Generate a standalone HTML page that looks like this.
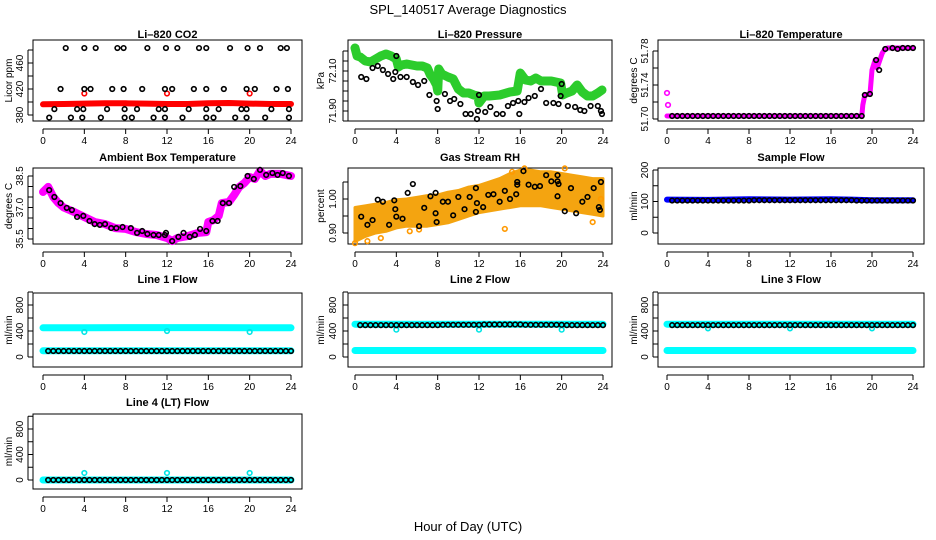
<!DOCTYPE html>
<html><head><meta charset="utf-8">
<style>
html,body{margin:0;padding:0;background:#fff;}
svg{display:block;font-family:"Liberation Sans",sans-serif;}
</style></head>
<body>
<svg id="chart" width="936" height="540" viewBox="0 0 936 540" xmlns="http://www.w3.org/2000/svg">
<rect width="936" height="540" fill="#fff"/>
<text x="468" y="14" text-anchor="middle" font-size="13">SPL_140517  Average Diagnostics</text>
<text x="468" y="531" text-anchor="middle" font-size="13">Hour of Day (UTC)</text>
</svg>
<script>
// ---------- data ----------
const xTicks=[0,4,8,12,16,20,24];
const halfHours=[0.5,1,1.5,2,2.5,3,3.5,4,4.5,5,5.5,6,6.5,7,7.5,8,8.5,9,9.5,10,10.5,11,11.5,12,12.5,13,13.5,14,14.5,15,15.5,16,16.5,17,17.5,18,18.5,19,19.5,20,20.5,21,21.5,22,22.5,23,23.5,24];

// CO2
const co2BlackHours=[2.2,4.0,5.1,7.2,7.8,10.1,11.9,13.0,15.1,15.8,18.1,19.8,21.0,23.0,23.6,
 1.7,4.0,4.6,6.7,7.8,9.6,11.8,12.5,14.6,15.8,17.5,19.7,20.5,22.6,23.7,
 1.1,3.3,3.9,6.2,7.9,9.1,11.2,11.8,14.1,15.8,17.0,19.2,19.7,22.1,23.8,
 0.6,2.7,3.8,5.6,7.9,8.6,10.7,11.8,13.5,15.8,16.5,18.6,19.7,21.5,23.8];
const co2BlackVals=[483,483,483,483,483,483,483,483,483,483,483,483,483,483,483,
 420,420,420,420,420,420,420,420,420,420,420,420,420,420,420,
 389,389,389,389,389,389,389,389,389,389,389,389,389,389,389,
 376,376,376,376,376,376,376,376,376,376,376,376,376,376,376];
const co2RedHours=[0,2,4,6,8,10,12,14,16,18,20,22,24];
const co2RedVals=[396.5,397,397.5,398,398,397.5,397,397,398,398.5,397.5,397,397];
const co2RedOutHours=[4.0,12.0,20.0];
const co2RedOutVals=[413,413,413];

// Pressure
const presBlackHours=[0.6,1.1,1.7,2.2,2.7,3.2,3.7,3.9,4.0,4.4,5.0,5.6,6.1,6.7,7.2,7.9,8.0,8.7,9.2,9.6,10.2,10.7,11.2,11.8,11.9,12.0,12.6,13.1,13.7,14.3,14.8,15.3,15.8,15.9,16.4,16.8,17.4,18.0,18.5,19.2,19.7,19.9,20.0,20.6,21.3,21.8,22.2,22.8,23.5,23.8,23.9];
const presBlackVals=[72.07,72.06,72.115,72.125,72.105,72.085,72.06,72.095,72.175,72.07,72.07,72.045,72.03,72.05,71.98,71.95,71.91,71.985,71.95,71.96,71.935,71.885,71.885,71.86,71.9,71.98,71.895,71.92,71.885,71.885,71.925,71.94,71.95,71.885,71.945,71.965,71.975,72.01,71.94,71.94,71.935,71.975,72.035,71.925,71.92,71.905,71.9,71.925,71.925,71.9,71.885];
const presGreenHours=[0,0.2,0.5,1,1.5,2,2.5,3,3.5,4,4.2,4.5,5,5.5,6,6.5,7,7.3,7.6,7.9,8.0,8.1,8.4,9,9.5,10,10.5,11,11.5,11.9,12.0,12.5,13,14,15,15.7,16,16.5,17,17.5,18,19,19.9,20.1,20.5,21,21.5,22,22.5,23,23.5,23.9];
const presGreenVals=[72.215,72.175,72.17,72.15,72.145,72.16,72.175,72.185,72.175,72.16,72.12,72.13,72.135,72.13,72.125,72.125,72.115,72.08,72.06,72.03,72.0,72.11,72.085,72.07,72.06,72.01,71.99,71.99,71.98,71.975,71.94,71.975,71.975,71.98,71.995,72.0,72.09,72.055,72.05,72.065,72.05,72.05,72.04,71.98,71.99,72.0,72.03,71.995,71.975,71.975,71.99,72.005];

// Li-820 temperature
const ltMagHours=[0,19,19.1,19.3,19.8,20,20.3,20.5,20.8,21,21.2,21.5,24];
const ltMagVals=[51.7035,51.7035,51.7165,51.7282,51.7294,51.7576,51.7694,51.76,51.7706,51.7776,51.7812,51.7835,51.7835];
const ltMagOutHours=[0.0,0.1];
const ltMagOutVals=[51.7306,51.7165];
const ltBlackHours=[0.5,1,1.5,2,2.5,3,3.5,4,4.5,5,5.5,6,6.5,7,7.5,8,8.5,9,9.5,10,10.5,11,11.5,12,12.5,13,13.5,14,14.5,15,15.5,16,16.5,17,17.5,18,18.5,19,19.3,19.8,20.4,20.7,21.3,22,22.5,23,23.5,24];
const ltBlackVals=[51.7035,51.7035,51.7035,51.7035,51.7035,51.7035,51.7035,51.7035,51.7035,51.7035,51.7035,51.7035,51.7035,51.7035,51.7035,51.7035,51.7035,51.7035,51.7035,51.7035,51.7035,51.7035,51.7035,51.7035,51.7035,51.7035,51.7035,51.7035,51.7035,51.7035,51.7035,51.7035,51.7035,51.7035,51.7035,51.7035,51.7035,51.7035,51.7282,51.7294,51.7694,51.7576,51.7824,51.7835,51.7824,51.7835,51.7835,51.7835];

// Ambient box temperature
const ambMagHours=[0,0.5,1,1.5,2,3,4,5,6,7,8,9,10,11,12,12.5,13,14,15,15.8,16,16.5,17,17.3,18,18.5,19,19.5,20,20.5,21,21.5,22,23,24];
const ambMagVals=[37.74,37.98,37.5,37.21,37.0,36.79,36.55,36.31,36.21,36.02,35.98,35.83,35.74,35.69,35.55,35.4,35.55,35.64,35.79,35.83,36.31,36.4,36.6,37.21,37.26,37.6,37.98,38.17,38.45,38.36,38.74,38.5,38.6,38.6,38.5];
const ambBlackHours=[0.6,1.1,1.7,2.3,2.8,3.3,3.9,4.5,5.0,5.5,6.0,6.6,7.1,7.7,8.5,9.1,9.6,10.1,10.7,11.2,11.8,11.9,12.5,13.1,13.6,14.2,14.7,15.2,15.8,16.4,16.9,17.4,18.0,18.5,19.1,19.8,20.4,21.0,21.6,22.2,22.7,23.2,23.8];
const ambBlackVals=[37.83,37.5,37.21,36.98,36.88,36.55,36.6,36.36,36.21,36.17,36.21,36.02,36.02,36.07,36.02,35.79,35.88,35.74,35.69,35.69,35.69,35.79,35.4,35.6,35.79,35.6,35.69,35.98,35.88,36.36,36.36,37.21,37.21,37.98,38.02,38.5,38.36,38.79,38.55,38.64,38.55,38.64,38.5];

// Gas stream RH
const rhBandHours=[0,1,2,3,4,5,6,7,8,9,10,11,12,13,14,15,16,17,18,19,20,21,22,23,24];
const rhLowVals=[0.875,0.89,0.90,0.905,0.915,0.92,0.92,0.92,0.925,0.93,0.94,0.95,0.96,0.965,0.97,0.975,0.98,0.98,0.98,0.975,0.97,0.965,0.96,0.955,0.95];
const rhHighVals=[0.975,0.98,0.985,0.99,0.998,1.0,1.005,1.01,1.012,1.02,1.025,1.035,1.04,1.05,1.06,1.075,1.085,1.085,1.08,1.08,1.075,1.07,1.065,1.06,1.06];
const rhOrangeHours=[0.0,1.2,2.5,5.3,6.2,14.5,15.2,16.4,20.3,23.0,23.8];
const rhOrangeVals=[0.87,0.876,0.885,0.905,0.91,0.912,1.08,1.09,1.09,0.932,1.0];
const rhBlackHours=[0.6,1.2,1.7,2.2,2.7,3.3,3.8,3.9,4.0,4.6,5.1,5.6,6.2,6.7,7.3,7.8,7.8,7.9,8.5,9.0,9.5,10.0,10.6,11.1,11.7,11.7,11.8,12.4,12.9,13.4,14.0,14.5,15.0,15.6,15.7,15.7,16.3,16.8,17.4,17.9,18.5,19.0,19.6,19.6,19.7,19.6,20.3,20.9,21.4,22.0,22.5,23.1,23.6,23.7,23.8];
const rhBlackVals=[0.948,0.924,0.938,0.998,0.992,0.924,0.996,0.97,0.948,0.942,1.018,1.044,0.92,0.974,1.008,1.018,0.958,0.932,0.992,0.992,0.952,1.006,0.97,1.006,1.032,0.962,0.988,0.976,1.012,1.014,0.992,1.024,1.0,1.014,1.05,1.042,1.082,1.042,1.036,1.038,1.07,1.052,1.07,1.052,1.044,1.008,0.964,1.032,0.958,0.992,1.006,1.032,0.976,0.968,1.05];

// Sample flow
const sfBlueHours=[0,4,8,12,16,18,20,24];
const sfBlueVals=[106,105,107,106,107,106,104,104];
const sfBlackVals=[103,103,103,103,103,103,103,103,103,103,103,103,103,103,103,103,104,104,104,104,104,104,104,104,104,104,104,104,104,104,104,104,104,104,104,104,103,103,103,103,103,103,103,103,103,103,103,103];

// Line flows
const flowBandHours=[0,4,8,12,16,20,24];
const l1CyanHigh=[450,450,452,452,452,450,450];
const l1CyanLow=[95,95,95,95,95,95,95];
const l1OutVals=[385,400,385];
const l1BlackVals=[92,92,92,92,92,92,92,92,92,92,92,92,92,92,92,92,92,92,92,92,92,92,92,92,92,92,92,92,92,92,92,92,92,92,92,92,92,92,92,92,92,92,92,92,92,92,92,92];
const l2CyanHigh=[505,505,505,505,505,505,505];
const l2CyanLow=[100,100,100,100,100,100,100];
const l2OutVals=[420,420,420];
const l2BlackVals=[490,490,490,490,490,490,490,490,490,490,490,490,490,490,490,490,495,495,495,495,495,495,495,495,500,500,500,500,500,500,500,500,495,495,495,495,495,495,495,495,490,490,490,490,490,490,490,490];
const l3CyanHigh=[505,505,505,505,505,505,505];
const l3CyanLow=[100,100,100,100,100,100,100];
const l3OutVals=[440,440,440];
const l3BlackVals=[490,490,490,490,490,490,490,490,490,490,490,490,490,490,490,490,490,490,490,490,490,490,490,490,490,490,490,490,490,490,490,490,490,490,490,490,490,490,490,490,490,490,490,490,490,490,490,490];
const l4CyanLow=[0,0,0,0,0,0,0];
const l4OutVals=[110,110,110];
const l4BlackVals=[0,0,0,0,0,0,0,0,0,0,0,0,0,0,0,0,0,0,0,0,0,0,0,0,0,0,0,0,0,0,0,0,0,0,0,0,0,0,0,0,0,0,0,0,0,0,0,0];
const flowOutHours=[4,12,20];

// ---------- layout ----------
const NS="http://www.w3.org/2000/svg";
const svg=document.getElementById('chart');
const cols=[{l:33,r:302,x0:43,x24:291,tl:20,yl:8},{l:348,r:612,x0:355,x24:603,tl:333,yl:320},{l:658,r:924,x0:667,x24:913,tl:645,yl:633}];
const rows=[{t:40,b:121,tt:38},{t:168,b:244,tt:161},{t:293,b:367,tt:283},{t:414,b:489,tt:406}];

function el(tag,attrs,parent){const e=document.createElementNS(NS,tag);for(const k in attrs)e.setAttribute(k,attrs[k]);(parent||svg).appendChild(e);return e;}

function makePanel(ci,ri,name,title,ylab,v1,y1,v2,y2,ticks,labels){
  const c=cols[ci],r=rows[ri];
  const g=el('g',{});
  
  
  const sx=h=>c.x0+(c.x24-c.x0)*h/24;
  const sy=v=>y1+(v-v1)*(y2-y1)/(v2-v1);
  const t=el('text',{x:(c.l+c.r)/2,y:r.tt,'text-anchor':'middle','font-size':'11','font-weight':'bold'},g);
  t.textContent=title;
  
  
  const box=el('rect',{x:c.l,y:r.t,width:c.r-c.l,height:r.b-r.t,fill:'none',stroke:'#000','stroke-width':'1'},g);
  
  
  const ay=r.b+8;
  const xa=el('g',{},g);
  
  
  el('line',{x1:sx(0),x2:sx(24),y1:ay,y2:ay,stroke:'#000'},xa);
  xTicks.forEach(h=>{
    el('line',{x1:sx(h),x2:sx(h),y1:ay,y2:ay+5,stroke:'#000'},xa);
    const tl=el('text',{x:sx(h),y:ay+15,'text-anchor':'middle','font-size':'10'},xa);
    tl.textContent=h;
    
    
  });
  const ya=el('g',{},g);
  
  
  const tvals=ticks.map(v=>sy(v));
  el('line',{x1:c.l-5,x2:c.l-5,y1:Math.min(...tvals),y2:Math.max(...tvals),stroke:'#000'},ya);
  ticks.forEach(v=>{el('line',{x1:c.l-5,x2:c.l,y1:sy(v),y2:sy(v),stroke:'#000'},ya);});
  labels.forEach(lb=>{
    const yy=sy(lb[0]);
    const tl=el('text',{x:c.tl,y:yy,'text-anchor':'middle','font-size':'10',transform:`rotate(-90 ${c.tl} ${yy})`,dy:'3'},ya);
    tl.textContent=lb[1];
    
    
  });
  const ym=(r.t+r.b)/2;
  const yt=el('text',{x:c.yl,y:ym,'text-anchor':'middle','font-size':'10',transform:`rotate(-90 ${c.yl} ${ym})`,dy:'4'},g);
  yt.textContent=ylab;
  
  
  const clip=el('g',{},g);
  
  
  return {g:clip,sx,sy};
}
function band(p,hours,vals,color,w,nm){
  const pts=hours.map((h,i)=>p.sx(h).toFixed(1)+','+p.sy(vals[i]).toFixed(1)).join(' ');
  const pl=el('polyline',{points:pts,fill:'none',stroke:color,'stroke-width':w,'stroke-linejoin':'round','stroke-linecap':'round'},p.g);
  
  
}
function pts(p,hours,vals,color,nm,r){
  hours.forEach((h,i)=>{
    const c=el('circle',{cx:p.sx(h),cy:p.sy(vals[i]),r:r||2.3,fill:'none',stroke:color,'stroke-width':'1.6'},p.g);
    
    
  });
}
function area(p,hours,lo,hi,color,nm){
  const a=hours.map((h,i)=>p.sx(h).toFixed(1)+','+p.sy(hi[i]).toFixed(1));
  const b=hours.map((h,i)=>p.sx(h).toFixed(1)+','+p.sy(lo[i]).toFixed(1)).reverse();
  const pg=el('polygon',{points:a.concat(b).join(' '),fill:color,stroke:color,'stroke-width':'3','stroke-linejoin':'round'},p.g);
  
  
}

let p=makePanel(0,0,'co2','Li\u2013820 CO2','Licor ppm',380,115,460,63,[380,400,420,440,460,480],[[380,'380'],[420,'420'],[460,'460']]);
band(p,co2RedHours,co2RedVals,'#ff0000',6,'co2-red-series');
pts(p,co2RedOutHours,co2RedOutVals,'#ff0000','co2-red-point');
pts(p,co2BlackHours,co2BlackVals,'#000','co2-black-point');

p=makePanel(1,0,'pressure','Li\u2013820 Pressure','kPa',71.90,111,72.10,71,[71.85,71.90,71.95,72.00,72.05,72.10,72.15,72.20],[[71.90,'71.90'],[72.10,'72.10']]);
band(p,presGreenHours,presGreenVals,'#2ccc2c',9,'pressure-green-series');
pts(p,presBlackHours,presBlackVals,'#000','pressure-black-point');

p=makePanel(2,0,'li820-temperature','Li\u2013820 Temperature','degrees C',51.70,119,51.78,51,[51.70,51.72,51.74,51.76,51.78],[[51.70,'51.70'],[51.74,'51.74'],[51.78,'51.78']]);
band(p,ltMagHours,ltMagVals,'#ff00ff',5,'li820-temp-magenta-series');
pts(p,ltMagOutHours,ltMagOutVals,'#ff00ff','li820-temp-magenta-point');
pts(p,ltBlackHours,ltBlackVals,'#000','li820-temp-black-point');

p=makePanel(0,1,'ambient-temperature','Ambient Box Temperature','degrees C',35.5,239,38.5,176,[35.5,36.0,36.5,37.0,37.5,38.0,38.5],[[35.5,'35.5'],[37.0,'37.0'],[38.5,'38.5']]);
band(p,ambMagHours,ambMagVals,'#ff00ff',8,'ambient-magenta-series');
pts(p,ambBlackHours,ambBlackVals,'#000','ambient-black-point');

p=makePanel(1,1,'gas-stream-rh','Gas Stream RH','percent',0.90,233,1.00,199,[0.90,0.95,1.00,1.05],[[0.90,'0.90'],[1.00,'1.00']]);
area(p,rhBandHours,rhLowVals,rhHighVals,'#f4a410','rh-orange-band');
pts(p,rhOrangeHours,rhOrangeVals,'#ff9900','rh-orange-point');
pts(p,rhBlackHours,rhBlackVals,'#000','rh-black-point');

p=makePanel(2,1,'sample-flow','Sample Flow','ml/min',0,233,200,170,[0,50,100,150,200],[[0,'0'],[100,'100'],[200,'200']]);
band(p,sfBlueHours,sfBlueVals,'#0000ff',6,'sample-flow-blue-series');
pts(p,halfHours,sfBlackVals,'#000','sample-flow-black-point');

const flowTicks=[0,200,400,600,800,1000],flowLabels=[[0,'0'],[400,'400'],[800,'800']];
p=makePanel(0,2,'line1-flow','Line 1 Flow','ml/min',0,357,800,305,flowTicks,flowLabels);
band(p,flowBandHours,l1CyanHigh,'#00ffff',7,'line1-cyan-high-series');
band(p,flowBandHours,l1CyanLow,'#00ffff',7,'line1-cyan-low-series');
pts(p,flowOutHours,l1OutVals,'#00e5e5','line1-cyan-point');
pts(p,halfHours,l1BlackVals,'#000','line1-black-point');

p=makePanel(1,2,'line2-flow','Line 2 Flow','ml/min',0,357,800,305,flowTicks,flowLabels);
band(p,flowBandHours,l2CyanHigh,'#00ffff',7,'line2-cyan-high-series');
band(p,flowBandHours,l2CyanLow,'#00ffff',7,'line2-cyan-low-series');
pts(p,flowOutHours,l2OutVals,'#00e5e5','line2-cyan-point');
pts(p,halfHours,l2BlackVals,'#000','line2-black-point');

p=makePanel(2,2,'line3-flow','Line 3 Flow','ml/min',0,357,800,305,flowTicks,flowLabels);
band(p,flowBandHours,l3CyanHigh,'#00ffff',7,'line3-cyan-high-series');
band(p,flowBandHours,l3CyanLow,'#00ffff',7,'line3-cyan-low-series');
pts(p,flowOutHours,l3OutVals,'#00e5e5','line3-cyan-point');
pts(p,halfHours,l3BlackVals,'#000','line3-black-point');

p=makePanel(0,3,'line4-flow','Line 4 (LT) Flow','ml/min',0,480,800,429,flowTicks,flowLabels);
band(p,flowBandHours,l4CyanLow,'#00ffff',7,'line4-cyan-series');
pts(p,flowOutHours,l4OutVals,'#00e5e5','line4-cyan-point');
pts(p,halfHours,l4BlackVals,'#000','line4-black-point');
</script>
</body></html>
